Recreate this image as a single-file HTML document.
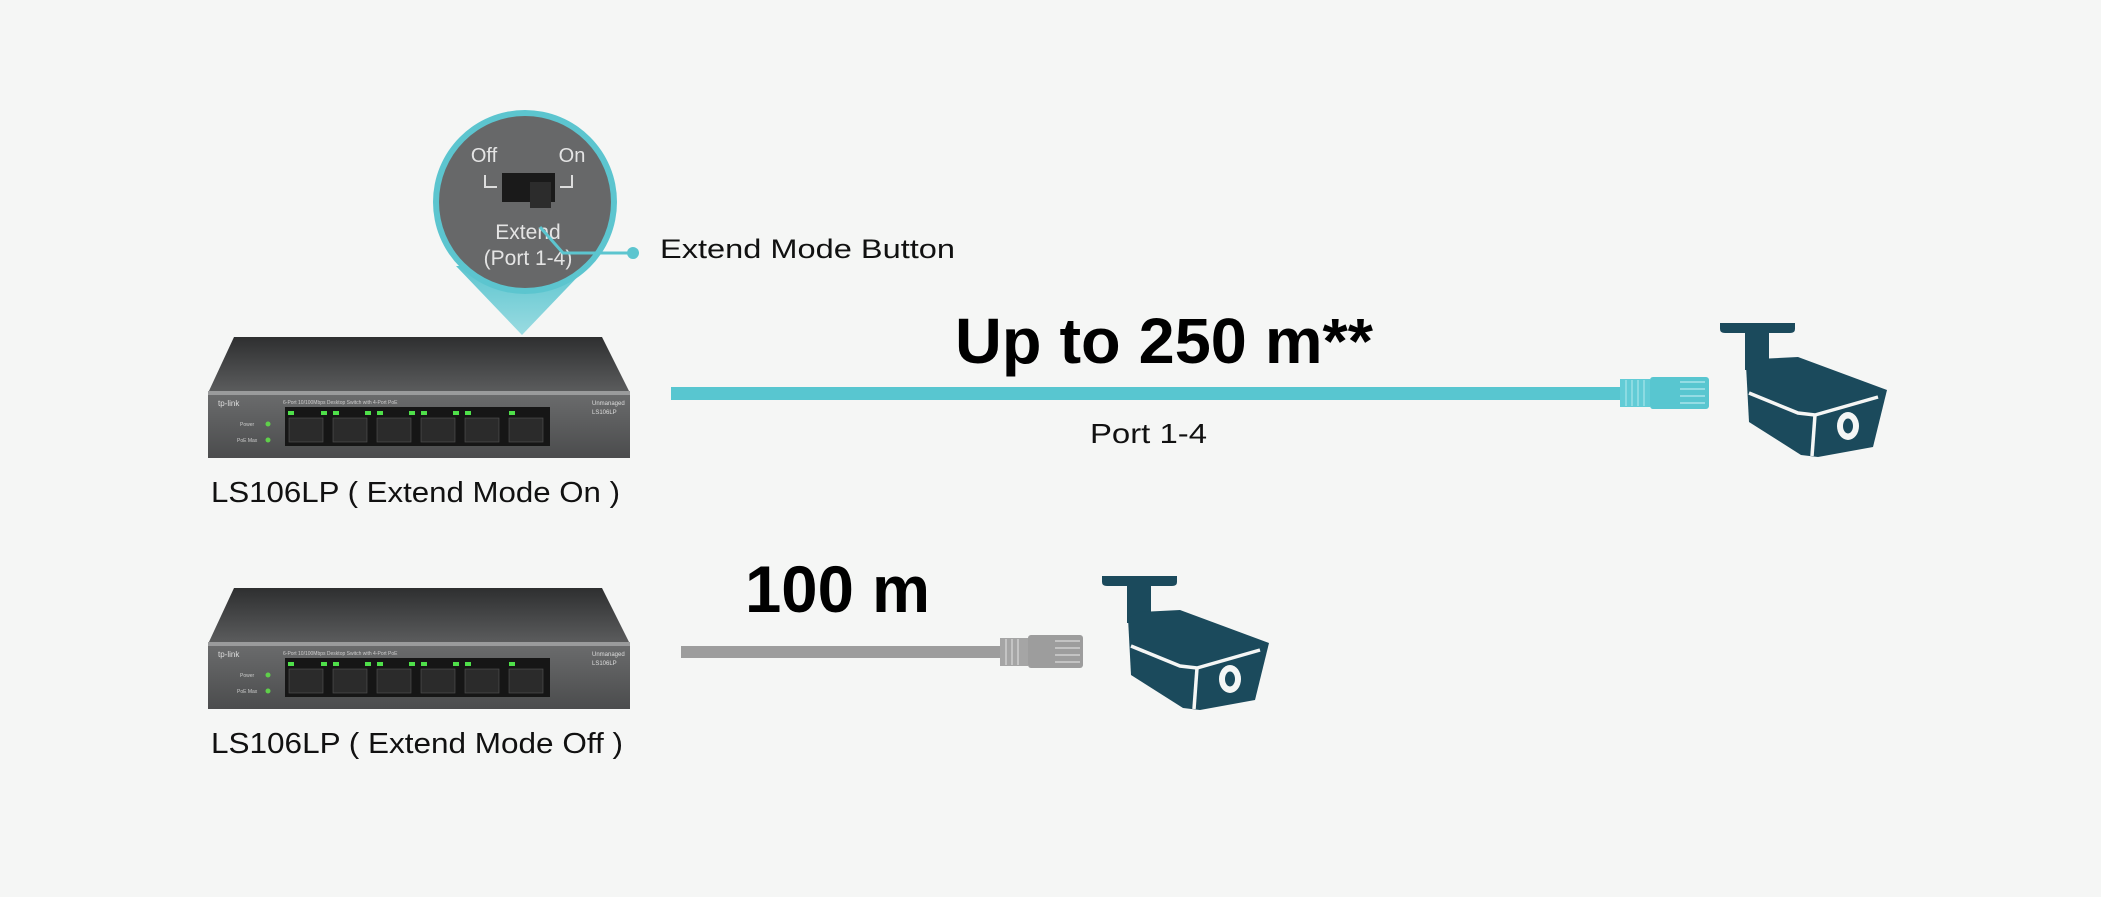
<!DOCTYPE html>
<html><head><meta charset="utf-8"><style>
html,body{margin:0;padding:0;background:#f5f6f5;}
svg{display:block;}
text{font-family:"Liberation Sans",sans-serif;}
</style></head><body>
<svg width="2101" height="897" viewBox="0 0 2101 897" xmlns="http://www.w3.org/2000/svg">
<defs>
<linearGradient id="top" x1="0" y1="0" x2="0" y2="1">
<stop offset="0" stop-color="#2e2f30"/><stop offset="0.6" stop-color="#4a4b4c"/><stop offset="1" stop-color="#5c5d5e"/>
</linearGradient>
<linearGradient id="front" x1="0" y1="0" x2="0" y2="1">
<stop offset="0" stop-color="#6a6b6c"/><stop offset="1" stop-color="#4b4c4d"/>
</linearGradient>
<linearGradient id="cone" x1="0" y1="0" x2="0" y2="1">
<stop offset="0" stop-color="#5cc5cf"/><stop offset="1" stop-color="#9adbe1"/>
</linearGradient>
<g id="sw">
<polygon points="234,337 602,337 630,393 208,393" fill="url(#top)"/>
<rect x="208" y="391" width="422" height="5" fill="#9a9b9c"/>
<rect x="208" y="395" width="422" height="63" fill="url(#front)"/>
<text x="218" y="406" font-size="8" fill="#ddd">tp-link</text>
<text x="283" y="404" font-size="5" fill="#ccc">6-Port 10/100Mbps Desktop Switch with 4-Port PoE</text>
<text x="592" y="405" font-size="6" fill="#ddd">Unmanaged</text>
<text x="592" y="414" font-size="6" fill="#ddd">LS106LP</text>
<text x="240" y="426" font-size="5" fill="#ccc">Power</text>
<text x="237" y="442" font-size="5" fill="#ccc">PoE Max</text>
<circle cx="268" cy="424" r="2.5" fill="#5fd04a"/>
<circle cx="268" cy="440" r="2.5" fill="#5fd04a"/>
<rect x="285" y="407" width="265" height="39" fill="#161616"/>
<g fill="#2b2b2b" stroke="#555" stroke-width="0.6">
<rect x="289" y="418" width="34" height="24"/><rect x="333" y="418" width="34" height="24"/>
<rect x="377" y="418" width="34" height="24"/><rect x="421" y="418" width="34" height="24"/>
<rect x="465" y="418" width="34" height="24"/><rect x="509" y="418" width="34" height="24"/>
</g>
<g fill="#4fe04a">
<rect x="288" y="411" width="6" height="4"/><rect x="321" y="411" width="6" height="4"/>
<rect x="333" y="411" width="6" height="4"/><rect x="365" y="411" width="6" height="4"/>
<rect x="377" y="411" width="6" height="4"/><rect x="409" y="411" width="6" height="4"/>
<rect x="421" y="411" width="6" height="4"/><rect x="453" y="411" width="6" height="4"/>
<rect x="465" y="411" width="6" height="4"/><rect x="509" y="411" width="6" height="4"/>
</g>
</g>
<g id="cam" fill="#1b4a5c">
<path d="M1720,323 H1795 V329 Q1795,333 1790,333 H1725 Q1720,333 1720,329 Z"/>
<rect x="1745" y="332" width="24" height="38"/>
<polygon points="1746,365 1758,359 1798,357 1887,390 1873,447 1818,457 1801,455 1749,422"/>
<polyline points="1749,393 1798,413 1815,415 1878,397" fill="none" stroke="#f5f6f5" stroke-width="3.5"/>
<line x1="1815" y1="415" x2="1812" y2="456" stroke="#f5f6f5" stroke-width="3.5"/>
<ellipse cx="1848" cy="426" rx="11" ry="14" fill="#f5f6f5"/>
<ellipse cx="1848" cy="426" rx="5" ry="7.5" fill="#1b4a5c"/>
</g>
</defs>

<!-- bubble -->
<polygon points="456,266 588,266 522,335" fill="url(#cone)"/>
<circle cx="525" cy="202" r="92" fill="#5cc5cf"/>
<circle cx="525" cy="202" r="86" fill="#676869"/>
<text x="484" y="162" font-size="20" fill="#e4e4e4" text-anchor="middle">Off</text>
<text x="572" y="162" font-size="20" fill="#e4e4e4" text-anchor="middle">On</text>
<polyline points="485,175 485,187 497,187" fill="none" stroke="#ddd" stroke-width="2"/>
<polyline points="572,175 572,187 560,187" fill="none" stroke="#ddd" stroke-width="2"/>
<rect x="502" y="173" width="53" height="29" fill="#1a1a1a"/>
<rect x="530" y="182" width="21" height="26" fill="#2c2c2c"/>
<text x="528" y="239" font-size="21" fill="#e4e4e4" text-anchor="middle">Extend</text>
<text x="528" y="265" font-size="21" fill="#e4e4e4" text-anchor="middle">(Port 1-4)</text>
<polyline points="540,227 563,253 631,253" fill="none" stroke="#5cc5cf" stroke-width="3"/>
<circle cx="633" cy="253" r="6" fill="#5cc5cf"/>
<text x="660" y="258" font-size="27" fill="#111" textLength="295" lengthAdjust="spacingAndGlyphs">Extend Mode Button</text>

<!-- top row -->
<use href="#sw"/>
<text x="211" y="502" font-size="29" fill="#111" textLength="409" lengthAdjust="spacingAndGlyphs">LS106LP ( Extend Mode On )</text>
<rect x="671" y="387" width="952" height="13" fill="#58c6d0"/>
<rect x="1620" y="379" width="30" height="28" fill="#62ccd6"/>
<g stroke="#9be0e6" stroke-width="1.5"><line x1="1626" y1="380" x2="1626" y2="406"/><line x1="1632" y1="380" x2="1632" y2="406"/><line x1="1638" y1="380" x2="1638" y2="406"/><line x1="1644" y1="380" x2="1644" y2="406"/></g>
<rect x="1650" y="377" width="59" height="32" rx="3" fill="#58c6d0"/>
<g stroke="#a8e4ea" stroke-width="1.5"><line x1="1680" y1="382" x2="1705" y2="382"/><line x1="1680" y1="389" x2="1705" y2="389"/><line x1="1680" y1="396" x2="1705" y2="396"/><line x1="1680" y1="403" x2="1705" y2="403"/></g>
<text x="955" y="363" font-size="64" font-weight="bold" fill="#000" textLength="418" lengthAdjust="spacingAndGlyphs">Up to 250 m**</text>
<text x="1090" y="443" font-size="28" fill="#111" textLength="117" lengthAdjust="spacingAndGlyphs">Port 1-4</text>
<use href="#cam"/>

<!-- bottom row -->
<use href="#sw" transform="translate(0,251)"/>
<text x="211" y="753" font-size="29" fill="#111" textLength="412" lengthAdjust="spacingAndGlyphs">LS106LP ( Extend Mode Off )</text>
<rect x="681" y="646" width="322" height="12" fill="#9d9d9d"/>
<rect x="1000" y="638" width="28" height="28" fill="#a5a5a5"/>
<g stroke="#cfcfcf" stroke-width="1.5"><line x1="1006" y1="639" x2="1006" y2="665"/><line x1="1012" y1="639" x2="1012" y2="665"/><line x1="1018" y1="639" x2="1018" y2="665"/></g>
<rect x="1028" y="635" width="55" height="33" rx="3" fill="#9d9d9d"/>
<g stroke="#d0d0d0" stroke-width="1.5"><line x1="1055" y1="641" x2="1080" y2="641"/><line x1="1055" y1="648" x2="1080" y2="648"/><line x1="1055" y1="655" x2="1080" y2="655"/><line x1="1055" y1="662" x2="1080" y2="662"/></g>
<text x="745" y="612" font-size="66" font-weight="bold" fill="#000" textLength="185" lengthAdjust="spacingAndGlyphs">100 m</text>
<use href="#cam" transform="translate(-618,253)"/>
</svg>
</body></html>
